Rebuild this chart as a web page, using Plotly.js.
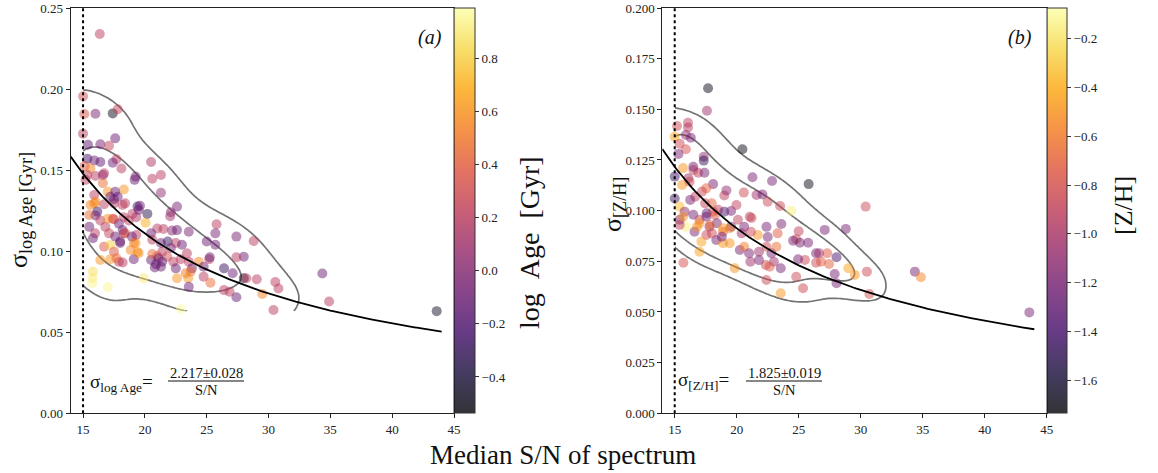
<!DOCTYPE html>
<html>
<head>
<meta charset="utf-8">
<script src="https://cdn.plot.ly/plotly-3.0.1.min.js"></script>
<style>html,body{margin:0;padding:0;background:#fff;} #chart{width:1158px;height:473px;}</style>
</head>
<body>
<div id="chart"></div>
<script>
// ---------------- data: panel (a) ----------------
const ageSN = [16.35,15.0,15.1,16.0,17.4,17.8,15.0,17.6,15.4,16.4,17.1,20.5,18.1,19.25,20.6,21.3,21.3,22.1,22.6,25.8,22.05,19.17,18.3,17.7,17.4,15.35,15.9,16.4,15.14,15.6,15.35,16.0,16.6,15.2,16.6,17.0,17.2,17.8,17.5,15.9,15.6,15.9,16.7,18.2,19.4,19.6,20.2,16.15,16.0,16.4,17.5,17.9,18.3,19.0,19.3,20.05,15.5,15.97,16.8,17.1,17.6,18.3,19.25,15.8,16.7,17.2,17.5,18.0,18.85,19.4,19.1,16.4,17.2,17.9,15.8,15.76,15.76,17.0,19.9,22.9,21.0,21.5,22.2,22.6,23.55,20.5,20.6,21.3,21.85,22.5,23.0,22.1,21.4,21.0,20.5,20.9,21.3,21.8,22.3,22.5,22.9,23.4,23.55,23.8,24.35,24.75,25.2,25.0,25.7,25.7,23.7,23.3,22.6,23.5,23.55,24.75,25.3,26.4,27.1,28.0,28.2,26.4,26.85,27.4,27.4,28.0,28.8,29.05,29.5,30.4,30.55,30.8,34.35,34.9,43.6,16.7,17.6,17.5,16.0,18.4,19.5,15.5,17.0,17.4,18.7,18.2,18.4,19.3,18.95,18.0,19.1,19.5,17.7,18.2,20.6,21.1,20.8,21.4,27.4,25.25];
const ageSigma = [0.234,0.1955,0.1846,0.1848,0.185,0.1875,0.1725,0.1696,0.1657,0.166,0.165,0.155,0.151,0.146,0.1447,0.147,0.136,0.124,0.1275,0.1166,0.1215,0.144,0.138,0.1567,0.1546,0.157,0.156,0.155,0.1526,0.151,0.147,0.1464,0.147,0.144,0.142,0.1367,0.1336,0.1336,0.1295,0.1347,0.1285,0.1295,0.129,0.1285,0.1275,0.128,0.123,0.1244,0.122,0.119,0.1197,0.117,0.121,0.123,0.121,0.1176,0.115,0.111,0.115,0.111,0.109,0.111,0.105,0.108,0.1028,0.1038,0.0997,0.106,0.1007,0.0997,0.095,0.0946,0.095,0.0935,0.0874,0.0833,0.0802,0.0777,0.0833,0.0642,0.114,0.1137,0.1127,0.113,0.112,0.111,0.107,0.105,0.106,0.105,0.104,0.102,0.0997,0.097,0.0946,0.092,0.0904,0.0966,0.0935,0.0894,0.095,0.0987,0.0935,0.0894,0.0935,0.0904,0.095,0.106,0.104,0.111,0.0874,0.0864,0.0833,0.0833,0.078,0.0843,0.0806,0.0894,0.0864,0.0833,0.0833,0.076,0.075,0.0716,0.109,0.0966,0.1063,0.0827,0.0736,0.0637,0.081,0.077,0.0862,0.069,0.063,0.148,0.1367,0.132,0.1305,0.1295,0.1255,0.1223,0.120,0.120,0.119,0.113,0.111,0.110,0.109,0.105,0.105,0.0987,0.0956,0.093,0.0983,0.0956,0.090,0.0935,0.0962,0.0962];
const ageLog = [0.2,0.3,0.35,-0.05,-0.5,0.25,0.2,-0.1,-0.15,-0.05,0.25,0.15,0.2,-0.05,0.2,0.2,0.05,0.0,-0.05,0.2,0.1,-0.1,0.6,0.2,-0.1,-0.25,-0.1,-0.15,0.35,0.55,0.2,0.2,-0.05,0.2,0.45,0.6,-0.1,-0.1,0.2,0.2,0.55,0.6,0.2,0.2,-0.25,-0.1,-0.35,-0.25,-0.1,0.2,0.35,-0.1,0.2,0.2,0.15,0.7,-0.1,0.2,0.2,0.25,-0.1,0.2,0.6,-0.1,0.35,0.8,0.35,-0.1,0.55,0.6,-0.1,0.6,0.6,0.2,0.85,0.9,0.95,0.95,0.9,0.98,0.2,0.2,0.0,-0.1,-0.05,-0.1,0.2,-0.1,-0.3,0.2,-0.1,-0.05,0.2,0.35,-0.1,-0.15,-0.1,0.3,0.2,-0.1,0.2,0.2,0.2,-0.1,0.55,-0.1,0.2,-0.1,-0.1,-0.05,0.45,0.5,0.6,0.6,-0.1,0.2,0.45,-0.3,-0.1,-0.45,0.2,0.2,0.2,-0.1,-0.05,-0.1,0.2,0.2,0.55,0.2,0.2,0.2,-0.1,0.2,-0.45,0.2,-0.1,-0.1,0.55,0.2,-0.1,0.45,0.6,0.35,0.2,-0.1,0.35,0.2,-0.1,-0.1,0.55,0.6,0.45,0.2,0.45,-0.1,-0.1,-0.1,0.2,-0.1];

// ---------------- data: panel (b) ----------------
const zhSN = [17.69,17.6,15.19,16.07,16.07,15.0,15.9,16.3,15.4,20.46,15.9,15.3,17.34,17.34,15.67,16.5,15.0,16.9,17.4,21.27,22.85,25.8,18.1,17.55,20.57,21.6,22.08,22.5,23.5,24.4,30.4,19.0,19.17,21.2,23.6,27.1,28.8,25.0,15.0,15.4,15.8,16.5,17.0,17.55,18.1,18.5,19.0,19.55,19.98,21.05,20.1,19.55,18.9,17.8,17.0,16.6,15.9,15.4,15.4,15.67,17.55,17.15,17.0,18.35,18.9,19.44,20.25,20.6,21.0,21.8,21.8,22.4,22.8,23.2,22.35,23.0,23.55,22.4,22.5,23.3,21.7,21.15,20.6,24.8,25.1,25.76,26.4,26.65,28.05,25.5,26.4,26.8,24.8,25.35,23.55,22.4,29.0,29.53,30.5,28.05,30.7,19.84,21.1,15.7,34.37,34.85,43.6,16.5,16.1,15.6,16.2,17.2,16.65,16.25,17.45,17.99,17.58,18.25,18.4,17.85,16.8,18.9,19.45,18.8,18.0,20.4,24.55,27.3,24.95,27.45,27.9,22.66];
const zhSigma = [0.1604,0.1493,0.1418,0.1434,0.141,0.1365,0.1373,0.136,0.133,0.1303,0.1303,0.128,0.1266,0.1247,0.121,0.120,0.1168,0.1187,0.1187,0.1165,0.1146,0.1131,0.1131,0.111,0.1089,0.1077,0.108,0.1044,0.1023,0.100,0.102,0.1075,0.110,0.0964,0.0934,0.0905,0.091,0.0898,0.106,0.102,0.0995,0.098,0.0955,0.097,0.0995,0.1004,0.0995,0.0998,0.1028,0.097,0.0955,0.0921,0.0896,0.0921,0.0937,0.0896,0.092,0.0955,0.093,0.097,0.088,0.0847,0.0797,0.0855,0.0839,0.0839,0.0806,0.0822,0.079,0.0797,0.0756,0.0822,0.079,0.0822,0.0732,0.0748,0.0716,0.092,0.087,0.0888,0.088,0.0896,0.092,0.0859,0.0842,0.0842,0.079,0.079,0.077,0.0757,0.0743,0.0748,0.0674,0.0617,0.0592,0.0658,0.0716,0.0683,0.0699,0.0642,0.0589,0.0716,0.0748,0.0743,0.0699,0.0671,0.0498,0.1217,0.116,0.1127,0.1143,0.1094,0.1069,0.1053,0.1036,0.1036,0.0987,0.0979,0.0938,0.0929,0.092,0.0913,0.0913,0.0871,0.0888,0.0888,0.0852,0.079,0.076,0.0737,0.0687,0.0723];
const zhMet = [-1.7,-1.05,-0.85,-0.9,-0.95,-0.45,-1.1,-1.2,-0.85,-1.7,-0.8,-1.2,-1.1,-1.5,-0.5,-0.85,-1.45,-0.9,-1.2,-1.2,-1.2,-1.7,-1.2,-0.7,-0.85,-1.05,-1.2,-0.85,-0.85,-0.15,-0.85,-0.9,-1.1,-0.85,-1.2,-1.2,-1.2,-0.9,-1.45,-0.35,-1.1,-1.2,-0.85,-1.2,-0.75,-0.9,-1.4,-1.2,-0.9,-0.9,-0.9,-1.2,-0.7,-1.05,-0.5,-1.2,-0.15,-1.2,-0.9,-0.5,-0.85,-0.45,-0.45,-1.2,-0.5,-0.5,-1.2,-0.6,-1.2,-1.05,-1.2,-0.85,-1.2,-0.65,-0.85,-1.05,-1.2,-1.2,-1.2,-0.75,-0.5,-0.85,-1.2,-0.85,-1.2,-1.2,-1.2,-1.05,-1.4,-0.85,-0.85,-0.75,-0.85,-0.85,-0.5,-0.85,-0.45,-0.5,-0.85,-1.2,-0.8,-0.5,-1.05,-0.8,-1.2,-0.55,-1.2,-1.2,-1.05,-0.5,-0.85,-0.85,-0.9,-1.2,-0.9,-0.7,-1.3,-0.75,-1.2,-0.65,-0.5,-0.5,-0.55,-1.2,-0.85,-1.05,-1.2,-0.75,-1.2,-0.7,-1.2,-0.75];

// fit coefficients sigma = A / (S/N)
const fitCoef = [2.217, 1.825];
const fitErr = [0.028, 0.019];
const snCut = 15;
const xTicks = [15,20,25,30,35,40,45];
const ageCbTicks = [-0.4,-0.2,0.0,0.2,0.4,0.6,0.8];
const zhCbTicks = [-1.6,-1.4,-1.2,-1.0,-0.8,-0.6,-0.4,-0.2];

// ---------------- helpers ----------------
const infernoStops = [[0,[0,0,4]],[0.1,[22,11,57]],[0.2,[66,10,104]],[0.3,[106,23,110]],[0.4,[147,38,103]],[0.5,[188,55,84]],[0.6,[221,81,58]],[0.7,[243,120,25]],[0.8,[252,165,10]],[0.9,[246,215,70]],[1,[252,255,164]]];
const infernoA = infernoStops.map(s => [s[0], `rgba(${s[1][0]},${s[1][1]},${s[1][2]},0.8)`]);

function kde2d(xs, ys, nx, ny) {
  const n = xs.length;
  const mx = xs.reduce((a,b)=>a+b,0)/n, my = ys.reduce((a,b)=>a+b,0)/n;
  let sxx=0, syy=0, sxy=0;
  for (let i=0;i<n;i++){const dx=xs[i]-mx, dy=ys[i]-my; sxx+=dx*dx; syy+=dy*dy; sxy+=dx*dy;}
  sxx/=(n-1); syy/=(n-1); sxy/=(n-1);
  const f2 = Math.pow(n, -1/6)**2;
  const a=sxx*f2, d=syy*f2, b=sxy*f2;
  const det = a*d-b*b;
  const ia=d/det, id=a/det, ib=-b/det;
  const x0=Math.min(...xs), x1=Math.max(...xs), y0=Math.min(...ys), y1=Math.max(...ys);
  const gx=[], gy=[], z=[];
  for (let i=0;i<nx;i++) gx.push(x0+(x1-x0)*i/(nx-1));
  for (let j=0;j<ny;j++) gy.push(y0+(y1-y0)*j/(ny-1));
  for (let j=0;j<ny;j++){
    const row=[];
    for (let i=0;i<nx;i++){
      let s=0;
      for (let k=0;k<n;k++){
        const dx=gx[i]-xs[k], dy=gy[j]-ys[k];
        s+=Math.exp(-0.5*(ia*dx*dx+2*ib*dx*dy+id*dy*dy));
      }
      row.push(s);
    }
    z.push(row);
  }
  return {gx, gy, z};
}
function isoLevels(z, props) {
  const flat = z.flat().sort((a,b)=>a-b);
  const tot = flat.reduce((a,b)=>a+b,0);
  const out=[];
  for (const p of props){
    let c=0, k=0;
    while (k<flat.length && c/tot < p){ c+=flat[k]; k++; }
    out.push(flat[Math.min(k, flat.length-1)]);
  }
  return out;
}
const kdePropsAge = [0.05, 0.3];
const kdePropsZH = [0.1, 0.27];

function contourTrace(xs, ys, props, xa, ya) {
  const k = kde2d(xs, ys, 120, 120);
  const lv = isoLevels(k.z, props);
  return {type:'contour', x:k.gx, y:k.gy, z:k.z, xaxis:xa, yaxis:ya, autocontour:false,
    contours:{start:lv[0], end:lv[1], size:lv[1]-lv[0], coloring:'none'},
    line:{color:'rgba(100,100,100,0.9)', width:1.7, smoothing:1.0}, showscale:false, hoverinfo:'skip'};
}
function fitTrace(A, xa, ya) {
  const xs=[], ys=[];
  for (let i=0;i<=150;i++){ const x=14+30*i/150; xs.push(x); ys.push(A/x); }
  return {type:'scatter', mode:'lines', x:xs, y:ys, xaxis:xa, yaxis:ya, line:{color:'black', width:1.8}, hoverinfo:'skip'};
}

const W=1158, H=473;
const px = v => v/W, py = v => 1 - v/H;
const yDom = [py(413.3), py(8)];
const FONT = 'Liberation Serif, DejaVu Serif, serif';

function cb(x, thick, ticks) {
  return {x:px(x), xref:'paper', xanchor:'left', thickness:thick, thicknessmode:'pixels',
    y:yDom[0], yanchor:'bottom', len:yDom[1]-yDom[0], lenmode:'fraction', xpad:0, ypad:0,
    outlinecolor:'#333', outlinewidth:1, ticks:'outside', ticklen:4, tickcolor:'#333',
    tickvals:ticks, tickformat:'.1f', tickfont:{family:FONT, size:13, color:'#222'}};
}

const scatterA = {type:'scatter', mode:'markers', x:ageSN, y:ageSigma, xaxis:'x', yaxis:'y',
  marker:{color:ageLog, colorscale:infernoA, cmin:-0.537, cmax:0.99, size:10, opacity:0.6, line:{width:0},
    colorbar:cb(454, 21, ageCbTicks)}, hoverinfo:'skip'};
const scatterB = {type:'scatter', mode:'markers', x:zhSN, y:zhSigma, xaxis:'x2', yaxis:'y2',
  marker:{color:zhMet, colorscale:infernoA, cmin:-1.735, cmax:-0.076, size:10, opacity:0.6, line:{width:0},
    colorbar:cb(1046.7, 20, zhCbTicks)}, hoverinfo:'skip'};

const data = [scatterA, scatterB,
  contourTrace(ageSN, ageSigma, kdePropsAge, 'x', 'y'), contourTrace(zhSN, zhSigma, kdePropsZH, 'x2', 'y2'),
  fitTrace(fitCoef[0], 'x', 'y'), fitTrace(fitCoef[1], 'x2', 'y2')];

const axBase = {showgrid:false, zeroline:false, showline:true, linecolor:'#222', linewidth:1, mirror:true,
  ticks:'outside', ticklen:4, tickcolor:'#222', tickfont:{family:FONT, size:13, color:'#222'}};

const ann = (x,y,text,size,opts={}) => Object.assign({xref:'paper', yref:'paper', x:px(x), y:py(y), text, showarrow:false,
  xanchor:'center', yanchor:'middle', font:{family:FONT, size, color:'#111'}}, opts);

const layout = {
  width:W, height:H, margin:{l:0,r:0,t:0,b:0}, paper_bgcolor:'#fff', plot_bgcolor:'#fff', showlegend:false,
  xaxis:Object.assign({}, axBase, {domain:[px(70.7), px(454)], range:[14,45], tickvals:xTicks, anchor:'y'}),
  yaxis:Object.assign({}, axBase, {domain:yDom, range:[0,0.25], dtick:0.05, tickformat:'.2f', anchor:'x'}),
  xaxis2:Object.assign({}, axBase, {domain:[px(662.3), px(1046.7)], range:[14,45], tickvals:xTicks, anchor:'y2'}),
  yaxis2:Object.assign({}, axBase, {domain:yDom, range:[0,0.2], dtick:0.025, tickformat:'.3f', anchor:'x2'}),
  shapes:[
    {type:'line', xref:'x', yref:'y', x0:snCut, x1:snCut, y0:0, y1:0.25, line:{color:'black', width:2, dash:'dot'}},
    {type:'line', xref:'x2', yref:'y2', x0:snCut, x1:snCut, y0:0, y1:0.2, line:{color:'black', width:2, dash:'dot'}},
    {type:'line', xref:'paper', yref:'paper', x0:px(168), x1:px(244), y0:py(381), y1:py(381), line:{color:'#111', width:1}},
    {type:'line', xref:'paper', yref:'paper', x0:px(746), x1:px(822), y0:py(381), y1:py(381), line:{color:'#111', width:1}}
  ],
  annotations:[
    ann(563, 455, 'Median S/N of spectrum', 27),
    ann(20, 210, 'σ<sub>log Age [Gyr]</sub>', 26, {textangle:-90}),
    ann(614, 205, 'σ<sub>[Z/H]</sub>', 26, {textangle:-90}),
    ann(529, 243, 'log\u2002Age\u2002[Gyr]', 28, {textangle:-90}),
    ann(1123, 206, '[Z/H]', 26, {textangle:-90}),
    ann(430, 37, '<i>(a)</i>', 20),
    ann(1020, 37, '<i>(b)</i>', 20),
    ann(88, 383, 'σ<sub>log Age</sub>=', 19, {xanchor:'left'}),
    ann(206, 373, fitCoef[0].toFixed(3)+'±'+fitErr[0].toFixed(3), 14.5),
    ann(206, 390, 'S/N', 14.5),
    ann(676, 381, 'σ<sub>[Z/H]</sub>=', 19, {xanchor:'left'}),
    ann(784, 373, fitCoef[1].toFixed(3)+'±'+fitErr[1].toFixed(3), 14.5),
    ann(784, 390, 'S/N', 14.5)
  ]
};

Plotly.newPlot('chart', data, layout, {displayModeBar:false, staticPlot:true});
</script>
</body>
</html>
